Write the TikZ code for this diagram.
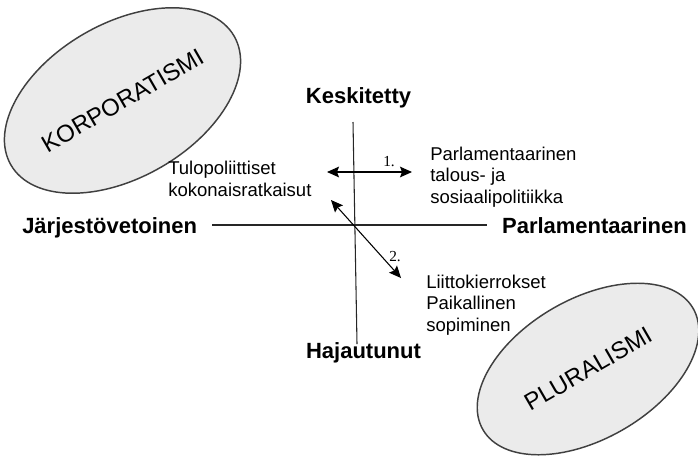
\documentclass[tikz,border=0pt]{standalone}
\usepackage{fontspec}
\setmainfont{Liberation Sans}
\newfontfamily\numfont{Liberation Serif}
\usetikzlibrary{arrows.meta, positioning, shapes.geometric}

\begin{document}
\begin{tikzpicture}[x=0.75pt, y=-0.75pt,
    blob/.style={draw=black!75, fill=black!8, line width=1.1pt, ellipse, inner sep=0pt, rotate=30, font=\fontsize{18}{20}\selectfont},
    pole/.style={inner sep=0pt, font=\bfseries\fontsize{16.5}{19}\selectfont},
    note/.style={align=left, inner sep=0pt, font=\fontsize{13.9}{16.1}\selectfont},
    num/.style={inner sep=0pt, font=\numfont\fontsize{11.5}{13}\selectfont},
    axis/.style={line width=0.8pt, black!85},
    arrow/.style={{Stealth[length=9pt, width=8pt, inset=1.5pt]}-{Stealth[length=9pt, width=8pt, inset=1.5pt]}, line width=0.8pt}]
  \useasboundingbox (0,0) rectangle (698,458);
  % the two blobs
  \node[blob, minimum width=192pt, minimum height=115.5pt] (korp) at (122.5,100.5) {KORPORATISMI};
  \node[blob, minimum width=182pt, minimum height=105pt] (plur) at (588,369) {PLURALISMI};
  % poles of the axes
  \node[pole, anchor=base] (kesk) at (358.5,103) {Keskitetty};
  \node[pole, anchor=base] (haja) at (363.5,358) {Hajautunut};
  \node[pole, anchor=base west] (jarj) at (22,233) {Järjestövetoinen};
  \node[pole, anchor=base east] (parl) at (687,233) {Parlamentaarinen};
  % notes (base = last line)
  \node[note, anchor=base west] (tulo) at (168,196) {Tulopoliittiset\\kokonaisratkaisut};
  \node[note, anchor=base west] (parlnote) at (430,203) {Parlamentaarinen\\talous- ja\\sosiaalipolitiikka};
  \node[note, anchor=base west] (liitto) at (426,331) {Liittokierrokset\\Paikallinen\\sopiminen};
  % axes
  \coordinate (vtop) at (353,122);
  \coordinate (vbot) at (357,344);
  \coordinate (hl) at (212,225);
  \coordinate (hr) at (487,225);
  \draw[axis] (vtop) -- (vbot);
  \draw[axis] (hl) -- (hr);
  % moves
  \coordinate (a1l) at (327,172);
  \coordinate (a1r) at (412,172);
  \coordinate (a2a) at (331,200);
  \coordinate (a2b) at (401,278);
  \draw[arrow] (a1l) -- (a1r);
  \draw[arrow] (a2a) -- (a2b);
  \node[num] (one) at (389,162) {1.};
  \node[num] (two) at (395,257) {2.};
\end{tikzpicture}
\end{document}
